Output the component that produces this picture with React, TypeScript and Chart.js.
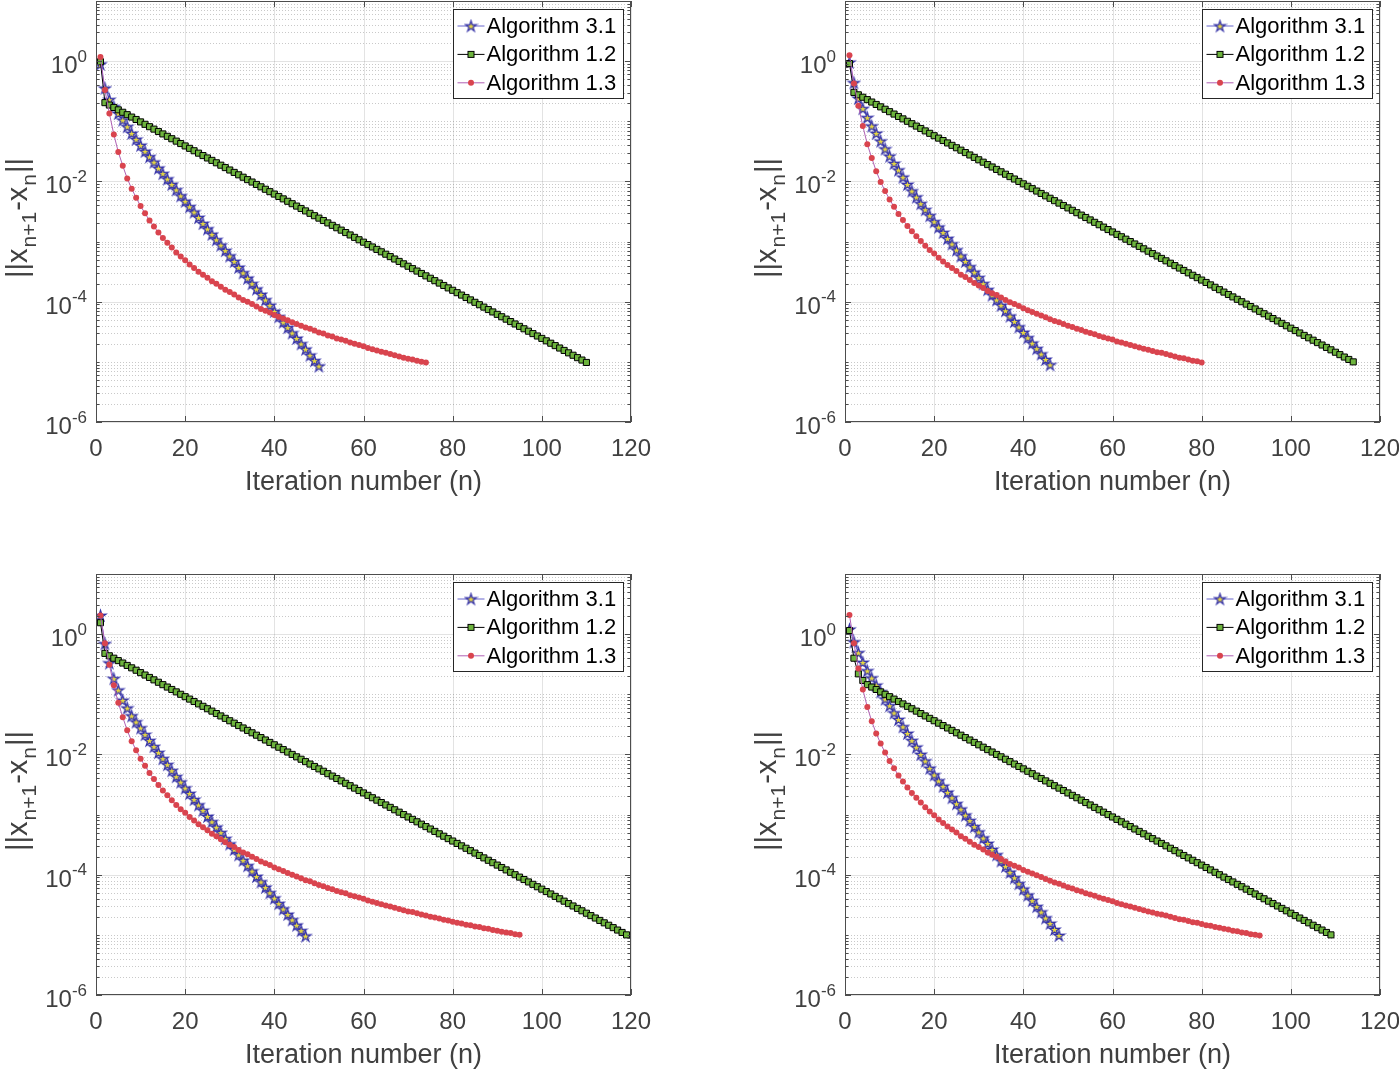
import React, { useEffect, useRef } from 'react';
import { Chart, registerables } from 'chart.js';

Chart.register(...registerables);

// ---------- text / ticks ----------
const SERIES_NAMES = ['Algorithm 3.1', 'Algorithm 1.2', 'Algorithm 1.3'];
const X_TICKS = [0, 20, 40, 60, 80, 100, 120];
const Y_TICK_EXPONENTS = [-6, -4, -2, 0];
const X_TITLE = 'Iteration number (n)';
const Y_TITLE_PARTS: [string, boolean][] = [['||x', false], ['n+1', true], ['-x', false], ['n', true], ['||', false]];

// ---------- data: log10 of ||x_{n+1}-x_n||, n = 1, 2, ... ----------
// top-left panel
const tl31 = [-0.05,-0.45,-0.64,-0.76,-0.87,-0.98,-1.09,-1.20,-1.30,-1.40,
  -1.50,-1.59,-1.68,-1.78,-1.87,-1.96,-2.05,-2.14,-2.24,-2.33,
  -2.42,-2.51,-2.60,-2.70,-2.79,-2.88,-2.97,-3.06,-3.15,-3.24,
  -3.33,-3.43,-3.52,-3.61,-3.70,-3.79,-3.88,-3.97,-4.06,-4.16,
  -4.25,-4.34,-4.43,-4.52,-4.61,-4.70,-4.79,-4.89,-4.98,-5.07];
const tl12 = [-0.01,-0.69,-0.73,-0.77,-0.81,-0.85,-0.89,-0.93,-0.97,-1.01,
  -1.05,-1.09,-1.13,-1.17,-1.21,-1.25,-1.29,-1.33,-1.37,-1.41,
  -1.45,-1.49,-1.53,-1.57,-1.61,-1.65,-1.69,-1.73,-1.77,-1.81,
  -1.85,-1.89,-1.93,-1.97,-2.01,-2.05,-2.09,-2.13,-2.17,-2.21,
  -2.25,-2.29,-2.33,-2.37,-2.41,-2.45,-2.49,-2.53,-2.57,-2.61,
  -2.65,-2.69,-2.73,-2.77,-2.81,-2.85,-2.89,-2.93,-2.97,-3.01,
  -3.05,-3.09,-3.13,-3.17,-3.21,-3.25,-3.29,-3.33,-3.37,-3.41,
  -3.45,-3.49,-3.53,-3.57,-3.61,-3.65,-3.69,-3.73,-3.77,-3.81,
  -3.85,-3.89,-3.93,-3.97,-4.01,-4.05,-4.09,-4.13,-4.17,-4.21,
  -4.25,-4.29,-4.33,-4.37,-4.41,-4.45,-4.49,-4.53,-4.57,-4.61,
  -4.65,-4.69,-4.73,-4.77,-4.81,-4.85,-4.89,-4.93,-4.97,-5.01];
const tl13 = [0.07,-0.48,-0.87,-1.22,-1.51,-1.74,-1.95,-2.12,-2.27,-2.41,
  -2.53,-2.65,-2.75,-2.85,-2.94,-3.02,-3.10,-3.18,-3.25,-3.31,
  -3.38,-3.44,-3.50,-3.55,-3.60,-3.66,-3.70,-3.75,-3.80,-3.84,
  -3.88,-3.93,-3.97,-4.00,-4.04,-4.08,-4.12,-4.15,-4.18,-4.22,
  -4.25,-4.28,-4.31,-4.34,-4.37,-4.40,-4.43,-4.45,-4.48,-4.51,
  -4.53,-4.56,-4.58,-4.61,-4.63,-4.65,-4.68,-4.70,-4.72,-4.74,
  -4.77,-4.79,-4.81,-4.83,-4.85,-4.87,-4.89,-4.91,-4.93,-4.95,
  -4.96,-4.98,-5.00,-5.01];

// top-right panel
const tr31 = [-0.02,-0.36,-0.62,-0.79,-0.94,-1.08,-1.20,-1.33,-1.46,-1.58,
  -1.70,-1.81,-1.93,-2.05,-2.16,-2.26,-2.37,-2.47,-2.57,-2.67,
  -2.76,-2.85,-2.95,-3.04,-3.14,-3.24,-3.33,-3.42,-3.51,-3.60,
  -3.70,-3.80,-3.89,-3.97,-4.06,-4.15,-4.24,-4.33,-4.42,-4.51,
  -4.60,-4.69,-4.78,-4.87,-4.96,-5.05];
const tr12 = [-0.04,-0.52,-0.56,-0.60,-0.64,-0.68,-0.72,-0.76,-0.80,-0.84,
  -0.88,-0.92,-0.96,-1.00,-1.04,-1.08,-1.12,-1.16,-1.20,-1.24,
  -1.28,-1.32,-1.36,-1.40,-1.44,-1.48,-1.52,-1.56,-1.60,-1.64,
  -1.68,-1.72,-1.76,-1.80,-1.84,-1.88,-1.92,-1.96,-2.00,-2.04,
  -2.08,-2.12,-2.16,-2.20,-2.24,-2.28,-2.32,-2.36,-2.40,-2.44,
  -2.48,-2.52,-2.56,-2.60,-2.64,-2.68,-2.72,-2.76,-2.80,-2.84,
  -2.88,-2.92,-2.96,-3.00,-3.04,-3.08,-3.12,-3.16,-3.20,-3.24,
  -3.28,-3.32,-3.36,-3.40,-3.44,-3.48,-3.52,-3.56,-3.60,-3.64,
  -3.68,-3.72,-3.76,-3.80,-3.84,-3.88,-3.92,-3.96,-4.00,-4.04,
  -4.08,-4.12,-4.16,-4.20,-4.24,-4.28,-4.32,-4.36,-4.40,-4.44,
  -4.48,-4.52,-4.56,-4.60,-4.64,-4.68,-4.72,-4.76,-4.80,-4.84,
  -4.88,-4.92,-4.96,-5.00];
const tr13 = [0.10,-0.37,-0.74,-1.08,-1.38,-1.61,-1.83,-2.01,-2.16,-2.30,
  -2.42,-2.54,-2.64,-2.74,-2.83,-2.91,-2.99,-3.07,-3.14,-3.20,
  -3.27,-3.33,-3.39,-3.44,-3.49,-3.55,-3.59,-3.64,-3.69,-3.73,
  -3.77,-3.82,-3.86,-3.89,-3.93,-3.97,-4.01,-4.04,-4.07,-4.11,
  -4.14,-4.17,-4.20,-4.23,-4.26,-4.29,-4.32,-4.34,-4.37,-4.40,
  -4.42,-4.45,-4.47,-4.50,-4.52,-4.54,-4.57,-4.59,-4.61,-4.63,
  -4.66,-4.68,-4.70,-4.72,-4.74,-4.76,-4.78,-4.80,-4.82,-4.84,
  -4.85,-4.87,-4.89,-4.91,-4.93,-4.94,-4.96,-4.98,-4.99,-5.01];

// bottom-left panel
const bl31 = [0.31,-0.16,-0.48,-0.74,-0.93,-1.10,-1.23,-1.36,-1.46,-1.56,
  -1.67,-1.77,-1.87,-1.97,-2.07,-2.17,-2.27,-2.37,-2.46,-2.56,
  -2.65,-2.75,-2.84,-2.93,-3.03,-3.12,-3.21,-3.30,-3.40,-3.49,
  -3.58,-3.67,-3.76,-3.85,-3.94,-4.03,-4.12,-4.21,-4.30,-4.39,
  -4.48,-4.57,-4.66,-4.75,-4.84,-4.93,-5.02];
const bl12 = [0.19,-0.32,-0.36,-0.40,-0.44,-0.48,-0.52,-0.56,-0.60,-0.64,
  -0.68,-0.72,-0.76,-0.80,-0.84,-0.88,-0.92,-0.96,-1.00,-1.04,
  -1.08,-1.12,-1.16,-1.20,-1.24,-1.28,-1.32,-1.36,-1.40,-1.44,
  -1.48,-1.52,-1.56,-1.60,-1.64,-1.68,-1.72,-1.76,-1.80,-1.84,
  -1.88,-1.92,-1.96,-2.00,-2.04,-2.08,-2.12,-2.16,-2.20,-2.24,
  -2.28,-2.32,-2.36,-2.40,-2.44,-2.48,-2.52,-2.56,-2.60,-2.64,
  -2.68,-2.72,-2.76,-2.80,-2.84,-2.88,-2.92,-2.96,-3.00,-3.04,
  -3.08,-3.12,-3.16,-3.20,-3.24,-3.28,-3.32,-3.36,-3.40,-3.44,
  -3.48,-3.52,-3.56,-3.60,-3.64,-3.68,-3.72,-3.76,-3.80,-3.84,
  -3.88,-3.92,-3.96,-4.00,-4.04,-4.08,-4.12,-4.16,-4.20,-4.24,
  -4.28,-4.32,-4.36,-4.40,-4.44,-4.48,-4.52,-4.56,-4.60,-4.64,
  -4.68,-4.72,-4.76,-4.80,-4.84,-4.88,-4.92,-4.96,-5.00];
const bl13 = [0.31,-0.15,-0.51,-0.85,-1.14,-1.38,-1.60,-1.78,-1.93,-2.07,
  -2.19,-2.31,-2.41,-2.51,-2.60,-2.68,-2.76,-2.84,-2.91,-2.97,
  -3.04,-3.10,-3.16,-3.21,-3.26,-3.32,-3.36,-3.41,-3.46,-3.50,
  -3.54,-3.59,-3.63,-3.66,-3.70,-3.74,-3.78,-3.81,-3.84,-3.88,
  -3.91,-3.94,-3.97,-4.00,-4.03,-4.06,-4.09,-4.11,-4.14,-4.17,
  -4.19,-4.22,-4.24,-4.27,-4.29,-4.31,-4.34,-4.36,-4.38,-4.40,
  -4.43,-4.45,-4.47,-4.49,-4.51,-4.53,-4.55,-4.57,-4.59,-4.61,
  -4.62,-4.64,-4.66,-4.68,-4.70,-4.71,-4.73,-4.75,-4.76,-4.78,
  -4.80,-4.81,-4.83,-4.84,-4.86,-4.87,-4.89,-4.90,-4.92,-4.93,
  -4.95,-4.96,-4.97,-4.99,-5.00];

// bottom-right panel
const br31 = [0.08,-0.13,-0.31,-0.47,-0.61,-0.73,-0.85,-0.96,-1.08,-1.19,
  -1.31,-1.42,-1.54,-1.65,-1.77,-1.88,-2.00,-2.11,-2.23,-2.34,
  -2.44,-2.53,-2.63,-2.72,-2.82,-2.91,-3.01,-3.10,-3.20,-3.29,
  -3.39,-3.48,-3.58,-3.67,-3.77,-3.86,-3.96,-4.05,-4.15,-4.24,
  -4.34,-4.43,-4.53,-4.62,-4.72,-4.81,-4.91,-5.01];
const br12 = [0.06,-0.40,-0.66,-0.77,-0.84,-0.88,-0.92,-0.96,-1.00,-1.04,
  -1.08,-1.12,-1.16,-1.20,-1.24,-1.28,-1.32,-1.36,-1.40,-1.44,
  -1.48,-1.52,-1.56,-1.60,-1.64,-1.68,-1.72,-1.76,-1.80,-1.84,
  -1.88,-1.92,-1.96,-2.00,-2.04,-2.08,-2.12,-2.16,-2.20,-2.24,
  -2.28,-2.32,-2.36,-2.40,-2.44,-2.48,-2.52,-2.56,-2.60,-2.64,
  -2.68,-2.72,-2.76,-2.80,-2.84,-2.88,-2.92,-2.96,-3.00,-3.04,
  -3.08,-3.12,-3.16,-3.20,-3.24,-3.28,-3.32,-3.36,-3.40,-3.44,
  -3.48,-3.52,-3.56,-3.60,-3.64,-3.68,-3.72,-3.76,-3.80,-3.84,
  -3.88,-3.92,-3.96,-4.00,-4.04,-4.08,-4.12,-4.16,-4.20,-4.24,
  -4.28,-4.32,-4.36,-4.40,-4.44,-4.48,-4.52,-4.56,-4.60,-4.64,
  -4.68,-4.72,-4.76,-4.80,-4.84,-4.88,-4.92,-4.96,-5.00];
const br13 = [0.32,-0.15,-0.57,-0.92,-1.21,-1.45,-1.65,-1.82,-1.97,-2.11,
  -2.23,-2.35,-2.45,-2.55,-2.64,-2.72,-2.80,-2.88,-2.95,-3.01,
  -3.08,-3.14,-3.20,-3.25,-3.30,-3.36,-3.40,-3.45,-3.50,-3.54,
  -3.58,-3.63,-3.67,-3.70,-3.74,-3.78,-3.82,-3.85,-3.88,-3.92,
  -3.95,-3.98,-4.01,-4.04,-4.07,-4.10,-4.13,-4.15,-4.18,-4.21,
  -4.23,-4.26,-4.28,-4.31,-4.33,-4.35,-4.38,-4.40,-4.42,-4.44,
  -4.47,-4.49,-4.51,-4.53,-4.55,-4.57,-4.59,-4.61,-4.63,-4.65,
  -4.66,-4.68,-4.70,-4.72,-4.74,-4.75,-4.77,-4.79,-4.80,-4.82,
  -4.84,-4.85,-4.87,-4.88,-4.90,-4.91,-4.93,-4.94,-4.96,-4.97,
  -4.99,-5.00,-5.01];

// ---------- layout / style ----------
const FONT = '"Liberation Sans", Arial, Helvetica, sans-serif';
const CANVAS_W = 700;
const CANVAS_H = 535;
const PAD = { left: 96, top: 1, right: 69, bottom: 113 };
const TEXT = '#404040';
const AXIS = '#4d4d4d';
const C31_LINE = '#6664cc';
const C31_EDGE = '#3532a8';
const C31_FACE = '#e8da40';
const C12_LINE = '#000000';
const C12_FACE = '#6db43d';
const C13_LINE = '#b060b4';
const C13_DOT = '#d9444e';

type PanelDef = { left: number; top: number; s31: number[]; s12: number[]; s13: number[] };
const PANELS: PanelDef[] = [
  { left: 0, top: 0, s31: tl31, s12: tl12, s13: tl13 },
  { left: 749, top: 0, s31: tr31, s12: tr12, s13: tr13 },
  { left: 0, top: 573, s31: bl31, s12: bl12, s13: bl13 },
  { left: 749, top: 573, s31: br31, s12: br12, s13: br13 },
];

let starCache: HTMLCanvasElement | null = null;
function starImage(): HTMLCanvasElement {
  if (starCache) return starCache;
  const size = 15;
  const c = document.createElement('canvas');
  c.width = size;
  c.height = size;
  const g = c.getContext('2d')!;
  const R = 5.7, r = 2.1, cx = size / 2, cy = size / 2 + 0.5;
  g.beginPath();
  for (let i = 0; i < 10; i++) {
    const ang = -Math.PI / 2 + (i * Math.PI) / 5;
    const rad = i % 2 === 0 ? R : r;
    const px = cx + rad * Math.cos(ang);
    const py = cy + rad * Math.sin(ang);
    if (i === 0) g.moveTo(px, py); else g.lineTo(px, py);
  }
  g.closePath();
  g.fillStyle = C31_FACE;
  g.fill();
  g.strokeStyle = C31_EDGE;
  g.lineWidth = 1.25;
  g.stroke();
  starCache = c;
  return c;
}

function toPoints(logs: number[]) {
  return logs.map((v, i) => ({ x: i + 1, y: Math.pow(10, v) }));
}

function drawMarker(ctx: CanvasRenderingContext2D, kind: number, x: number, y: number) {
  if (kind === 0) {
    const s = starImage();
    ctx.drawImage(s, x - s.width / 2, y - s.height / 2);
  } else if (kind === 1) {
    ctx.fillStyle = C12_FACE;
    ctx.strokeStyle = '#000';
    ctx.lineWidth = 1;
    ctx.fillRect(x - 3, y - 3, 6, 6);
    ctx.strokeRect(x - 3, y - 3, 6, 6);
  } else {
    ctx.fillStyle = C13_DOT;
    ctx.beginPath();
    ctx.arc(x, y, 3, 0, Math.PI * 2);
    ctx.fill();
  }
}

const decorPlugin = {
  id: 'matlabDecor',
  beforeDatasetsDraw(chart: any) {
    const { ctx, chartArea: a, scales } = chart;
    const ys = scales.y, xs = scales.x;
    ctx.save();
    ctx.fillStyle = '#ffffff';
    ctx.fillRect(a.left, a.top, a.right - a.left, a.bottom - a.top);
    // minor (dotted) y grid
    ctx.strokeStyle = 'rgba(60,60,60,0.28)';
    ctx.lineWidth = 1;
    ctx.setLineDash([1, 2]);
    for (let e = -6; e <= 0; e++) {
      for (let m = 1; m <= 9; m++) {
        if (m === 1 && Y_TICK_EXPONENTS.includes(e)) continue;
        const py = Math.round(ys.getPixelForValue(m * Math.pow(10, e))) + 0.5;
        ctx.beginPath();
        ctx.moveTo(a.left, py);
        ctx.lineTo(a.right, py);
        ctx.stroke();
      }
    }
    // major grid
    ctx.setLineDash([]);
    ctx.strokeStyle = 'rgba(40,40,40,0.13)';
    for (const e of Y_TICK_EXPONENTS) {
      const py = Math.round(ys.getPixelForValue(Math.pow(10, e))) + 0.5;
      ctx.beginPath();
      ctx.moveTo(a.left, py);
      ctx.lineTo(a.right, py);
      ctx.stroke();
    }
    for (const v of X_TICKS) {
      const px = Math.round(xs.getPixelForValue(v)) + 0.5;
      ctx.beginPath();
      ctx.moveTo(px, a.top);
      ctx.lineTo(px, a.bottom);
      ctx.stroke();
    }
    ctx.restore();
  },
  afterDatasetsDraw(chart: any) {
    const { ctx, chartArea: a, scales } = chart;
    const ys = scales.y, xs = scales.x;
    ctx.save();
    // axes box
    ctx.strokeStyle = AXIS;
    ctx.lineWidth = 1;
    ctx.strokeRect(a.left + 0.5, a.top + 0.5, a.right - a.left - 1, a.bottom - a.top - 1);
    // x ticks (inward, bottom and top)
    ctx.beginPath();
    for (const v of X_TICKS) {
      const px = Math.round(xs.getPixelForValue(v)) + 0.5;
      ctx.moveTo(px, a.bottom);
      ctx.lineTo(px, a.bottom - 6);
      ctx.moveTo(px, a.top);
      ctx.lineTo(px, a.top + 6);
    }
    // y ticks
    for (let e = -6; e <= 1; e++) {
      for (let m = 1; m <= 9; m++) {
        if (e === 1 && m > 1) break;
        const val = m * Math.pow(10, e);
        const py = Math.round(ys.getPixelForValue(val)) + 0.5;
        const len = m === 1 && Y_TICK_EXPONENTS.includes(e) ? 6 : 3.5;
        ctx.moveTo(a.left, py);
        ctx.lineTo(a.left + len, py);
        ctx.moveTo(a.right, py);
        ctx.lineTo(a.right - len, py);
      }
    }
    ctx.stroke();

    // x tick labels
    ctx.fillStyle = TEXT;
    ctx.font = `24px ${FONT}`;
    ctx.textAlign = 'center';
    ctx.textBaseline = 'alphabetic';
    for (const v of X_TICKS) {
      ctx.fillText(String(v), xs.getPixelForValue(v), a.bottom + 33.5);
    }
    // y tick labels 10^e
    for (const e of Y_TICK_EXPONENTS) {
      const py = ys.getPixelForValue(Math.pow(10, e));
      const right = a.left - 9;
      ctx.textAlign = 'right';
      ctx.font = `17px ${FONT}`;
      const expStr = String(e);
      const ew = ctx.measureText(expStr).width;
      ctx.fillText(expStr, right, py + 0.5);
      ctx.font = `24px ${FONT}`;
      ctx.fillText('10', right - ew, py + 12);
    }
    // x title
    ctx.font = `27px ${FONT}`;
    ctx.textAlign = 'center';
    ctx.fillText(X_TITLE, (a.left + a.right) / 2, a.bottom + 68);
    // y title with subscripts
    ctx.save();
    ctx.translate(a.left - 69, (a.top + a.bottom) / 2 + 6);
    ctx.rotate(-Math.PI / 2);
    ctx.textAlign = 'left';
    const mainF = `29px ${FONT}`, subF = `21px ${FONT}`;
    let total = 0;
    for (const [t, sub] of Y_TITLE_PARTS) {
      ctx.font = sub ? subF : mainF;
      total += ctx.measureText(t).width + 1;
    }
    let cx = -total / 2;
    for (const [t, sub] of Y_TITLE_PARTS) {
      ctx.font = sub ? subF : mainF;
      ctx.fillText(t, cx, sub ? 9 : 0);
      cx += ctx.measureText(t).width + 1;
    }
    ctx.restore();

    // legend
    const bw = 170, bh = 89;
    const bx = Math.round(a.right - 8 - bw) + 0.5;
    const by = Math.round(a.top + 7.5) + 0.5;
    ctx.fillStyle = '#ffffff';
    ctx.fillRect(bx, by, bw, bh);
    ctx.strokeStyle = '#262626';
    ctx.lineWidth = 1;
    ctx.strokeRect(bx, by, bw, bh);
    const lineColors = [C31_LINE, C12_LINE, C13_LINE];
    for (let i = 0; i < 3; i++) {
      const ry = by + 16.5 + i * 28.4;
      ctx.strokeStyle = lineColors[i];
      ctx.lineWidth = 1;
      ctx.beginPath();
      ctx.moveTo(bx + 4, ry);
      ctx.lineTo(bx + 31, ry);
      ctx.stroke();
      drawMarker(ctx, i, bx + 17.5, ry);
      ctx.fillStyle = '#000';
      ctx.font = `22px ${FONT}`;
      ctx.textAlign = 'left';
      ctx.textBaseline = 'middle';
      ctx.fillText(SERIES_NAMES[i], bx + 33, ry + 1);
      ctx.textBaseline = 'alphabetic';
    }
    ctx.restore();
  },
};

function Panel({ def }: { def: PanelDef }) {
  const ref = useRef<HTMLCanvasElement | null>(null);
  useEffect(() => {
    if (!ref.current) return;
    const chart = new Chart(ref.current, {
      type: 'line',
      data: {
        datasets: [
          {
            label: SERIES_NAMES[0],
            data: toPoints(def.s31),
            borderColor: C31_LINE,
            borderWidth: 1,
            pointStyle: starImage() as any,
            pointRadius: 5,
            pointBackgroundColor: C31_FACE,
            pointBorderColor: C31_EDGE,
            order: 3,
          },
          {
            label: SERIES_NAMES[1],
            data: toPoints(def.s12),
            borderColor: C12_LINE,
            borderWidth: 1,
            pointStyle: 'rect',
            pointRadius: 4.3,
            pointBackgroundColor: C12_FACE,
            pointBorderColor: '#000',
            pointBorderWidth: 1,
            order: 2,
          },
          {
            label: SERIES_NAMES[2],
            data: toPoints(def.s13),
            borderColor: C13_LINE,
            borderWidth: 1,
            pointStyle: 'circle',
            pointRadius: 3,
            pointBackgroundColor: C13_DOT,
            pointBorderColor: C13_DOT,
            pointBorderWidth: 0,
            order: 1,
          },
        ],
      },
      options: {
        responsive: false,
        animation: false,
        devicePixelRatio: 1,
        events: [],
        layout: { padding: PAD, autoPadding: false },
        scales: {
          x: { type: 'linear', min: 0, max: 120, display: false },
          y: { type: 'logarithmic', min: 1e-6, max: 10, display: false },
        },
        plugins: { legend: { display: false }, tooltip: { enabled: false } },
      },
      plugins: [decorPlugin],
    });
    return () => chart.destroy();
  }, [def]);
  return (
    <canvas
      ref={ref}
      width={CANVAS_W}
      height={CANVAS_H}
      style={{ position: 'absolute', left: def.left, top: def.top, display: 'block' }}
    />
  );
}

export default function App() {
  return (
    <div style={{ position: 'absolute', left: 0, top: 0, width: 1399, height: 1070, background: '#ffffff', overflow: 'hidden' }}>
      {PANELS.map((p, i) => (
        <Panel key={i} def={p} />
      ))}
    </div>
  );
}
